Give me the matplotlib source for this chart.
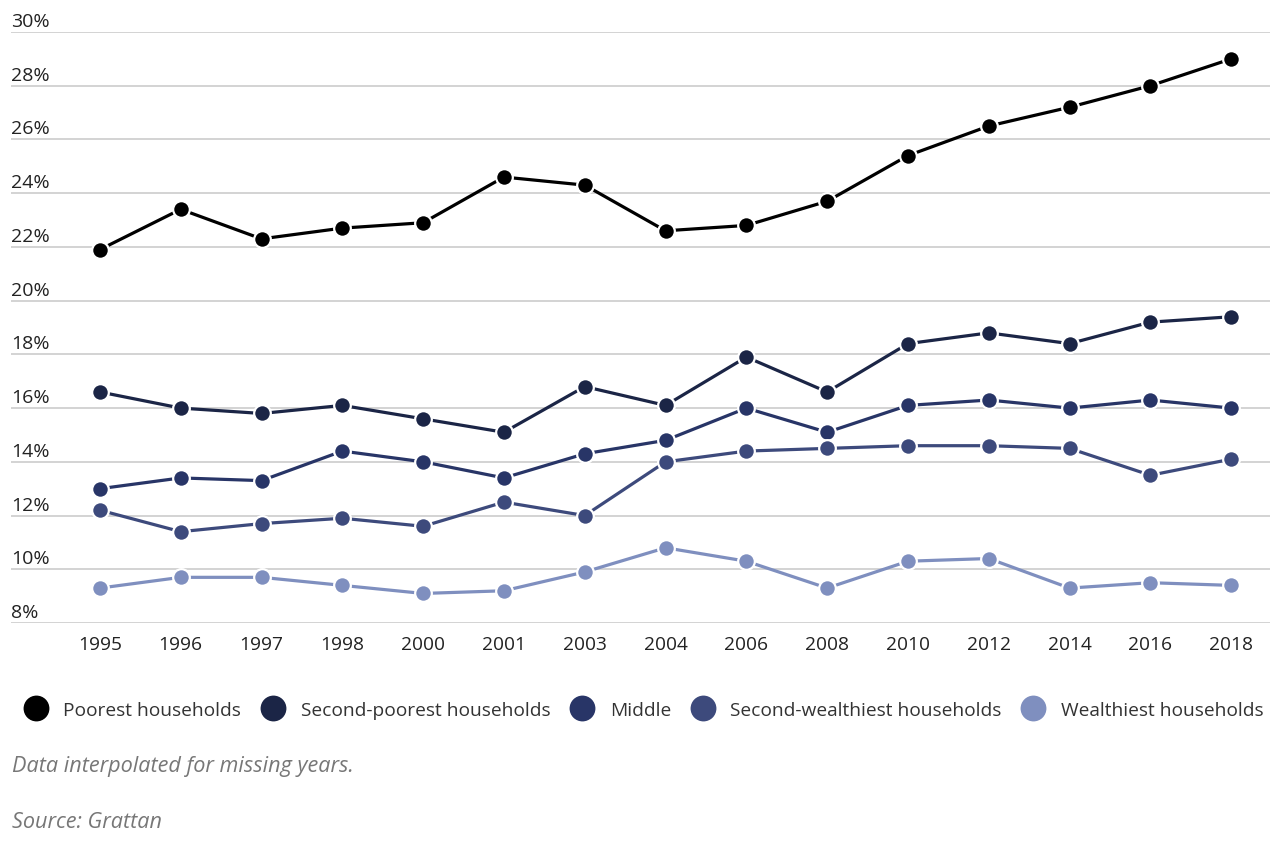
import numpy as np
import matplotlib
matplotlib.use('Agg')
import matplotlib.pyplot as plt
import matplotlib.transforms as mtransforms

plt.rcParams['font.family'] = ['Open Sans', 'DejaVu Sans']

years = ['1995', '1996', '1997', '1998', '2000', '2001', '2003', '2004',
         '2006', '2008', '2010', '2012', '2014', '2016', '2018']

poorest = [21.9, 23.4, 22.3, 22.7, 22.9, 24.6, 24.3, 22.6, 22.8, 23.7, 25.4, 26.5, 27.2, 28.0, 29.0]
second_poorest = [16.6, 16.0, 15.8, 16.1, 15.6, 15.1, 16.8, 16.1, 17.9, 16.6, 18.4, 18.8, 18.4, 19.2, 19.4]
middle = [13.0, 13.4, 13.3, 14.4, 14.0, 13.4, 14.3, 14.8, 16.0, 15.1, 16.1, 16.3, 16.0, 16.3, 16.0]
second_wealthiest = [12.2, 11.4, 11.7, 11.9, 11.6, 12.5, 12.0, 14.0, 14.4, 14.5, 14.6, 14.6, 14.5, 13.5, 14.1]
wealthiest = [9.3, 9.7, 9.7, 9.4, 9.1, 9.2, 9.9, 10.8, 10.3, 9.3, 10.3, 10.4, 9.3, 9.5, 9.4]

series_names = ['Poorest households', 'Second-poorest households', 'Middle',
                'Second-wealthiest households', 'Wealthiest households']
series_colors = ['#000000', '#1b2546', '#283567', '#3d4a7c', '#7f8fbf']
yticks = [8, 10, 12, 14, 16, 18, 20, 22, 24, 26, 28, 30]

fig = plt.figure(figsize=(12.8, 8.62), dpi=100)
ax = fig.add_axes([11 / 1280, 1 - 624 / 862, 1259 / 1280, (624 - 33) / 862])

x = np.arange(len(years))
all_series = [poorest, second_poorest, middle, second_wealthiest, wealthiest]
for vals, name, col in zip(all_series, series_names, series_colors):
    ax.plot(x, vals, color=col, lw=2.3, marker='o', markersize=12,
            markeredgecolor='white', markeredgewidth=1.6, label=name, zorder=3)

ax.set_xlim(-1.10, 14.48)
ax.set_ylim(8, 30)

for t in yticks:
    ax.axhline(t, color='#c8c8c8', lw=1.1, zorder=1)
ax.set_yticks([])
ax.set_xticks(x)
ax.set_xticklabels(years, fontsize=13.8, color='#222222')
ax.tick_params(axis='x', length=0, pad=9)
for s in ax.spines.values():
    s.set_visible(False)

trans = mtransforms.blended_transform_factory(ax.transAxes, ax.transData)
offset = mtransforms.ScaledTranslation(0, 2 / 100, fig.dpi_scale_trans)
for t in yticks:
    ax.text(0, t, f'{t}%', transform=trans + offset, ha='left', va='bottom',
            fontsize=14, color='#222222')

leg = ax.legend(loc='center left', bbox_to_anchor=(26 / 1280, 1 - 711 / 862),
                bbox_transform=fig.transFigure, ncol=5, frameon=False,
                fontsize=13.8, handlelength=1.0, handletextpad=0.95,
                columnspacing=1.15, markerscale=1.55, borderaxespad=0,
                borderpad=0)
for h in leg.legend_handles:
    h.set_linestyle('none')
    h.set_markeredgewidth(0)
for txt in leg.get_texts():
    txt.set_color('#333333')

fig.text(12 / 1280, 1 - 767 / 862, 'Data interpolated for missing years.',
         fontsize=15.6, style='italic', color='#777777', va='center', ha='left')
fig.text(12 / 1280, 1 - 823 / 862, 'Source: Grattan',
         fontsize=15.6, style='italic', color='#777777', va='center', ha='left')

fig.savefig('out.png', dpi=100, facecolor='white')
